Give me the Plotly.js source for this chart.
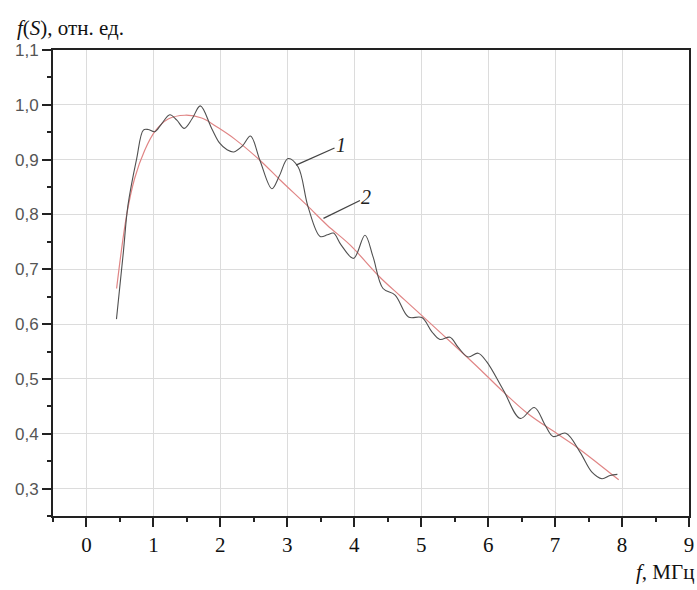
<!DOCTYPE html>
<html>
<head>
<meta charset="utf-8">
<script src="https://cdn.plot.ly/plotly-3.0.1.min.js"></script>
<style>html,body{margin:0;padding:0;background:#fff;}#chart{width:697px;height:590px;}</style>
</head>
<body>
<div id="chart"></div>
<script>
// Curve 1 (measured, oscillating)
const freq1 = [0.448,0.55,0.62,0.75,0.85,0.92,1.02,1.12,1.245,1.35,1.46,1.58,1.70,1.87,1.99,2.1,2.2,2.33,2.45,2.59,2.77,2.88,3.01,3.16,3.31,3.49,3.6,3.69,3.8,3.99,4.16,4.28,4.43,4.61,4.81,5.01,5.16,5.28,5.43,5.55,5.70,5.85,5.98,6.23,6.48,6.69,6.85,6.97,7.16,7.37,7.55,7.70,7.82,7.93];
const val1 = [0.609,0.73,0.817,0.902,0.954,0.955,0.951,0.965,0.982,0.972,0.957,0.975,0.998,0.957,0.930,0.918,0.914,0.925,0.943,0.899,0.847,0.87,0.902,0.887,0.814,0.760,0.763,0.766,0.745,0.720,0.762,0.723,0.665,0.653,0.613,0.612,0.586,0.572,0.576,0.558,0.540,0.547,0.531,0.479,0.428,0.448,0.416,0.395,0.401,0.367,0.330,0.318,0.324,0.326];
// Curve 2 (smooth fit)
const freq2 = [0.45,0.6,0.72,0.87,1.02,1.22,1.47,1.72,1.97,2.22,2.59,2.9,3.29,3.6,3.94,4.38,4.7,5.06,5.55,5.9,6.23,6.6,7.03,7.32,7.65,7.95];
const val2 = [0.665,0.799,0.866,0.917,0.951,0.974,0.981,0.976,0.958,0.937,0.899,0.862,0.817,0.780,0.744,0.686,0.650,0.610,0.555,0.515,0.476,0.436,0.400,0.376,0.345,0.316];
const xTicks = [0,1,2,3,4,5,6,7,8,9];
const yTicks = [0.3,0.4,0.5,0.6,0.7,0.8,0.9,1.0,1.1];
const yTickText = ['0,3','0,4','0,5','0,6','0,7','0,8','0,9','1,0','1,1'];
const curveLabels = ['1','2'];
const labelAnchor = [[3.13,0.890],[3.54,0.793]];

const traces = [
  {x: freq2, y: val2, mode:'lines', line:{color:'#e08585', width:1.2, shape:'spline', smoothing:1}, hoverinfo:'skip'},
  {x: freq1, y: val1, mode:'lines', line:{color:'#505050', width:1.1, shape:'spline', smoothing:1}, hoverinfo:'skip'}
];

const serif = 'Liberation Serif';
const layout = {
  width:697, height:590,
  margin:{l:53, r:8, t:50, b:74},
  paper_bgcolor:'#fff', plot_bgcolor:'#fff',
  showlegend:false,
  xaxis:{
    range:[-0.5,9], tickvals:xTicks, ticktext:xTicks.map(String),
    showgrid:true, gridcolor:'#dcdcdc', gridwidth:1,
    zeroline:false, showline:true, linecolor:'#222', linewidth:2, mirror:true,
    ticks:'outside', ticklen:9, tickwidth:2, tickcolor:'#222',
    minor:{dtick:0.5, tick0:0, ticks:'outside', ticklen:4, tickwidth:2, tickcolor:'#222', showgrid:false},
    tickfont:{family:serif, size:21, color:'#111'}
  },
  yaxis:{
    range:[0.25,1.1], tickvals:yTicks, ticktext:yTickText,
    showgrid:true, gridcolor:'#dcdcdc', gridwidth:1,
    zeroline:false, showline:true, linecolor:'#222', linewidth:2, mirror:true,
    ticks:'outside', ticklen:9, tickwidth:2, tickcolor:'#222',
    minor:{dtick:0.05, tick0:0.25, ticks:'outside', ticklen:4, tickwidth:2, tickcolor:'#222', showgrid:false},
    tickfont:{family:'Liberation Sans', size:17, color:'#555'}
  },
  annotations:[
    {xref:'paper', yref:'paper', x:-0.06, y:1.047, xanchor:'left', yanchor:'middle', showarrow:false,
     text:'<i>f</i>(<i>S</i>), отн. ед.', font:{family:serif, size:21, color:'#111'}},
    {xref:'paper', yref:'paper', x:1.011, y:-0.12, xanchor:'right', yanchor:'middle', showarrow:false,
     text:'<i>f</i>, МГц', font:{family:serif, size:21, color:'#111'}},
    {x:labelAnchor[0][0], y:labelAnchor[0][1], text:'<i>'+curveLabels[0]+'</i>', showarrow:true, arrowhead:0, arrowwidth:1.3, arrowcolor:'#444',
     ax:45, ay:-20, font:{family:serif, size:20, color:'#222'}},
    {x:labelAnchor[1][0], y:labelAnchor[1][1], text:'<i>'+curveLabels[1]+'</i>', showarrow:true, arrowhead:0, arrowwidth:1.3, arrowcolor:'#444',
     ax:43, ay:-21, font:{family:serif, size:20, color:'#222'}}
  ]
};
Plotly.newPlot('chart', traces, layout, {staticPlot:true, displayModeBar:false});
</script>
</body>
</html>
